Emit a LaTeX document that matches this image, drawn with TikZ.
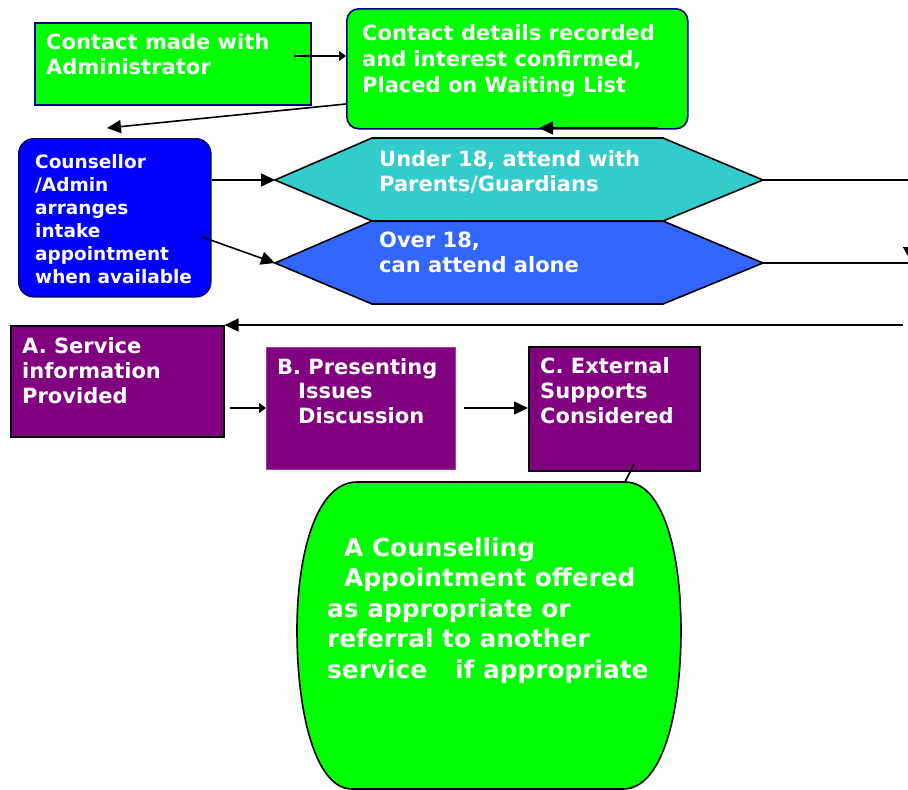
\documentclass[tikz,border=0pt]{standalone}
\usepackage{fontspec}
\setmainfont{DejaVu Sans}
\usetikzlibrary{arrows.meta}
\definecolor{lgreen}{HTML}{00FF00}
\definecolor{navyb}{HTML}{000080}
\definecolor{pureblue}{HTML}{0000FF}
\definecolor{tealc}{HTML}{33CCCC}
\definecolor{royalb}{HTML}{3366FF}
\definecolor{purp}{HTML}{800080}
\definecolor{purpedge}{HTML}{A040A0}
\begin{document}
\begin{tikzpicture}[x=1pt,y=-1pt,
  box/.style={anchor=north west, inner sep=0pt, line width=1.6pt},
  txt/.style={anchor=north west, inner sep=0pt, text=white, align=left,
    font=\bfseries\fontsize{21}{25}\selectfont},
  ar/.style={-{Triangle[length=14pt,width=13pt]}, line width=1.6pt},
  arsmall/.style={-{Triangle[length=7pt,width=10pt]}, line width=1.6pt},
  ln/.style={line width=1.6pt}]
\useasboundingbox (0,0) rectangle (908,790);

% boxes
\node[box, draw=navyb, fill=lgreen, minimum width=276pt, minimum height=82pt] (a1) at (34,22) {};
\node[box, draw=navyb, fill=lgreen, rounded corners=12pt, minimum width=341pt, minimum height=120pt] (a2) at (346,8) {};
\node[box, draw=navyb, fill=pureblue, rounded corners=15pt, minimum width=192pt, minimum height=158pt] (bl) at (18,138) {};

% hexagons
\coordinate (h1w) at (275,180); \coordinate (h1e) at (763,180);
\coordinate (h2w) at (275,263); \coordinate (h2e) at (763,263);
\draw[ln, fill=tealc] (h1w) -- (372,138) -- (663,138) -- (h1e) -- (663,221) -- (372,221) -- cycle;
\draw[ln, fill=royalb] (h2w) -- (372,221) -- (663,221) -- (h2e) -- (663,304) -- (372,304) -- cycle;

% purple boxes
\node[box, draw=black, fill=purp, minimum width=213pt, minimum height=111pt] (pa) at (10,325) {};
\node[box, draw=purpedge, line width=0.6pt, fill=purp, minimum width=189pt, minimum height=122pt] (pb) at (266,347) {};
\node[box, draw=black, fill=purp, minimum width=171pt, minimum height=124pt] (pc) at (528,346) {};

% barrel
\coordinate (gtop) at (625,482);
\draw[ln, fill=lgreen] (357,482) -- (gtop) .. controls (664,482) and (681,555) .. (681,630)
  .. controls (681,715) and (662,789) .. (623,789) -- (352,789)
  .. controls (316,789) and (297,715) .. (297,630)
  .. controls (297,555) and (316,482) .. (357,482) -- cycle;

% texts
\node[txt] (t1) at (46,33) {Contact made with\\Administrator};
\node[txt, font=\bfseries\fontsize{21}{26}\selectfont] (t2) at (362,24) {Contact details recorded\\and interest confirmed,\\Placed on Waiting List};
\node[txt, font=\bfseries\fontsize{18.5}{23}\selectfont] (t3) at (35,154) {Counsellor\\/Admin\\arranges\\intake\\appointment\\when available};
\node[txt] (t4) at (379,150) {Under 18, attend with\\Parents/Guardians};
\node[txt] (t5) at (379,232) {Over 18,\\can attend alone};
\node[txt] (t6) at (22,337) {A. Service\\information\\Provided};
\node[txt, font=\bfseries\fontsize{21}{24.5}\selectfont] (t7) at (277,358) {B. Presenting\\\hspace*{21pt}Issues\\\hspace*{21pt}Discussion};
\node[txt] (t8) at (540,357) {C. External\\Supports\\Considered};
\node[txt, font=\bfseries\fontsize{24.8}{30.5}\selectfont] (t9) at (327,537) {\hspace*{17pt}A Counselling\\\hspace*{17pt}Appointment offered\\as appropriate or\\referral to another\\service\hspace*{28pt}if appropriate};

% connector coordinates
\coordinate (c1) at (294,56);
\coordinate (c2s) at (346,104);
\coordinate (c2) at (107,128);
\coordinate (c3s) at (658,128);
\coordinate (c3) at (539,128);
\coordinate (c4s) at (202,237);
\coordinate (r1) at (908,180);
\coordinate (r2) at (908,263);
\coordinate (vs) at (909,200);
\coordinate (ve) at (909,258);
\coordinate (c8s) at (903,325);
\coordinate (c9s) at (230,408);
\coordinate (c10s) at (464,408);
\coordinate (c11s) at (634,464);

% connectors
\draw[arsmall] (c1) -- (c1 -| a2.west);
\draw[ar] (c2s) -- (c2);
\draw[ar] (c3s) -- (c3);
\draw[ar] (bl.east |- h1w) -- (h1w);
\draw[ar] (c4s) -- (h2w);
\draw[ln] (h1e) -- (r1);
\draw[ln] (h2e) -- (r2);
\draw[-{Triangle[length=11pt,width=12pt]}, line width=1.6pt] (vs) -- (ve);
\draw[ar] (c8s) -- (c8s -| pa.east);
\draw[arsmall] (c9s) -- (c9s -| pb.west);
\draw[ar] (c10s) -- (c10s -| pc.west);
\draw[ln] (c11s) -- (gtop);
\end{tikzpicture}
\end{document}
